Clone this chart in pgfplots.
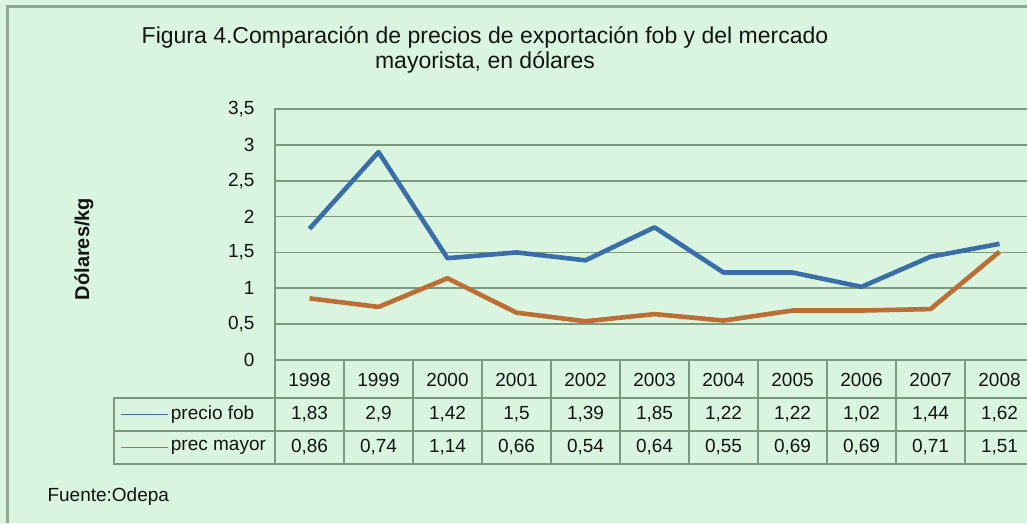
\documentclass[border=0pt]{standalone}
\usepackage{fontspec}
\setmainfont{Liberation Sans}
\usepackage{pgfplots}
\usepackage{pgfplotstable}
\pgfplotsset{compat=1.18}
\definecolor{bgc}{RGB}{217,245,223}
\definecolor{gridc}{RGB}{124,152,126}
\definecolor{fobc}{RGB}{58,110,170}
\definecolor{mayc}{RGB}{188,110,52}
\definecolor{txt}{RGB}{20,20,20}

\pgfplotstableread{
x year fob mayor
0 1998 1.83 0.86
1 1999 2.9 0.74
2 2000 1.42 1.14
3 2001 1.5 0.66
4 2002 1.39 0.54
5 2003 1.85 0.64
6 2004 1.22 0.55
7 2005 1.22 0.69
8 2006 1.02 0.69
9 2007 1.44 0.71
10 2008 1.62 1.51
}\precios

\begin{document}
\begin{tikzpicture}[x=1pt,y=1pt]
\fill[bgc] (0,0) rectangle (1027,523);
\draw[gridc!85, line width=2.5pt] (7.5,0) -- (7.5,516.5) -- (1027,516.5);
\node[txt, font=\fontsize{23}{25}\selectfont, align=center] at (485,473)
  {Figura 4.Comparación de precios de exportación fob y del mercado\\mayorista, en dólares};
\node[txt, font=\fontsize{20}{24}\selectfont\bfseries, rotate=90] at (84,274) {Dólares/kg};
\node[txt, font=\fontsize{19}{23}\selectfont, anchor=west] at (44,26) {Fuente:Odepa};

\begin{axis}[at={(275pt,163pt)}, anchor=south west, scale only axis,
  width=759pt, height=251pt,
  xmin=-0.5, xmax=10.5, ymin=0, ymax=3.5, clip=false,
  ytick={0,0.5,1,1.5,2,2.5,3,3.5},
  xtick={0,...,10}, xticklabels from table={\precios}{year},
  ymajorgrids, grid style={gridc, line width=1.8pt},
  axis line style={gridc, line width=1.8pt},
  major tick length=0pt,
  /pgf/number format/.cd, use comma, assume math mode=true, /pgfplots/.cd,
  tick label style={txt, font=\fontsize{19}{23}\selectfont},
  yticklabel style={xshift=-17pt},
  xticklabel style={anchor=center, yshift=-20pt},
  every node near coord/.style={anchor=center, txt, font=\fontsize{19}{23}\selectfont},
]
\addplot[fobc, line width=4.6pt, line join=round] table[x=x, y=fob]{\precios};
\addplot[mayc, line width=4.6pt, line join=round] table[x=x, y=mayor]{\precios};

% data table under the plot
\addplot[draw=none, mark=none, nodes near coords, point meta=\thisrow{fob}]
  table[x=x, y expr=-0.76]{\precios};
\addplot[draw=none, mark=none, nodes near coords, point meta=\thisrow{mayor}]
  table[x=x, y expr=-1.22]{\precios};

\draw[gridc, line width=1.8pt] (axis cs:-2.83,-0.53) rectangle (axis cs:10.7,-1.45);
\draw[gridc, line width=1.8pt] (axis cs:-2.83,-0.99) -- (axis cs:10.7,-0.99);
\draw[gridc, line width=1.8pt] (axis cs:10.7,-0.53) -- (axis cs:10.7,0);
\pgfplotsinvokeforeach{-0.5,0.5,1.5,2.5,3.5,4.5,5.5,6.5,7.5,8.5,9.5}{
  \draw[gridc, line width=1.8pt] (axis cs:#1,0) -- (axis cs:#1,-1.45);
}
\draw[fobc, line width=1.8pt] (axis cs:-2.73,-0.76) -- (axis cs:-2.05,-0.76);
\draw[mayc, line width=1.8pt] (axis cs:-2.73,-1.22) -- (axis cs:-2.05,-1.22);
\node[anchor=west, txt, font=\fontsize{19}{23}\selectfont] at (axis cs:-2.06,-0.76) {precio fob};
\node[anchor=west, txt, font=\fontsize{19}{23}\selectfont] at (axis cs:-2.06,-1.22) {prec mayor};
\end{axis}
\pgfresetboundingbox
\useasboundingbox (0,0) rectangle (1027,523);
\end{tikzpicture}
\end{document}
